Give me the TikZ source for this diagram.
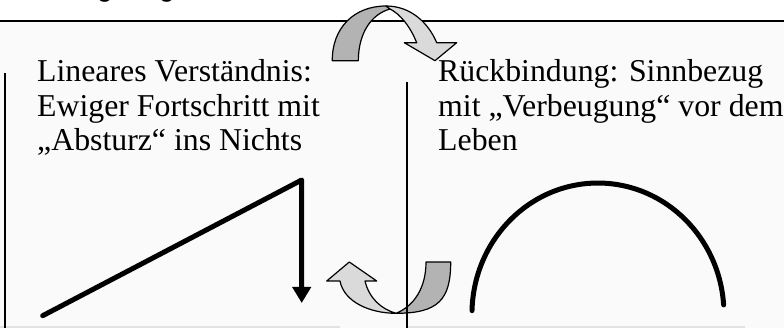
\documentclass[tikz,border=0pt]{standalone}
\usepackage{fontspec}
\setmainfont{Liberation Serif}
\newfontfamily\headfont{Liberation Sans}
\usetikzlibrary{arrows.meta}
\definecolor{panel}{HTML}{FAFAFA}
\definecolor{edgegray}{HTML}{E2E2E2}
\definecolor{banddark}{HTML}{B3B3B3}
\definecolor{bandlight}{HTML}{DADADA}
\begin{document}
\begin{tikzpicture}[x=1pt,y=-1pt,
  txt/.style={anchor=base west, inner sep=0pt, font=\fontsize{31.8}{34.5}\selectfont},
  head/.style={anchor=base, inner sep=0pt, font=\headfont\fontsize{28}{30}\selectfont},
  rule/.style={draw=black, line width=1.6pt},
  heavy/.style={line width=5pt, line cap=round, line join=round},
  band/.style={draw=black, line width=1.2pt, line join=round}]
\useasboundingbox (0,0) rectangle (784,328);
\fill[white] (0,0) rectangle (784,328);
\fill[panel] (0,21) rectangle (784,328);

% heading above the frame, only its descenders show
\begin{scope}
  \clip (0,0) rectangle (784,328);
  \node[head] (hg1) at (105,-3) {g};
  \node[head] (hg2) at (167,-3) {g};
\end{scope}

% frame lines
\draw[edgegray, line width=1.5pt] (0,327) -- (340,327) (408,327) -- (745,327);
\draw[rule] (0,21) -- (784,21);
\draw[rule, line width=2pt] (4.7,73) -- (4.7,328);

% left column text
\node[txt] (l1) at (37,82) {Lineares Verständnis:};
\node[txt] (l2) at (37,116.5) {Ewiger Fortschritt mit};
\node[txt] (l3) at (37,151) {„Absturz“ ins Nichts};

% right column text
\node[txt] (r1) at (438,82) {Rückbindung: Sinnbezug};
\node[txt] (r2) at (438,116.5) {mit „Verbeugung“ vor dem};
\node[txt] (r3) at (438,151) {Leben};

% rise and fall
\coordinate (zstart) at (42.7,315.7);
\coordinate (zpeak) at (301.7,180);
\coordinate (zend) at (301.7,303);
\draw[heavy, -{Triangle[width=18pt,length=16pt]}] (zstart) -- (zpeak) -- (zend);

% arc of life
\draw[heavy] (472,310.6) arc[start angle=178.5, end angle=4, x radius=126, y radius=-131];

% curved arrow over the top
\fill[banddark, band]
  (332.3,60.7) .. controls (332,28) and (354,6) .. (386,6)
  -- (390,9) .. controls (372,14) and (358.5,32) .. (358.3,60.7) -- cycle;
\fill[bandlight, band]
  (386,6) .. controls (410,6) and (428,22) .. (436.7,42.7)
  -- (456.7,42.7) -- (435,60.7) -- (404.3,42.7) -- (416.7,42.7)
  .. controls (410,26) and (400,14) .. (390,9) -- cycle;

% curved arrow underneath
\fill[banddark, band]
  (396,313.3) .. controls (438,313.3) and (450.7,300) .. (450.7,262)
  -- (426,262) .. controls (426,288) and (414,306) .. (396,313.3) -- cycle;
\fill[bandlight, band]
  (349.3,262) -- (376.7,281) -- (365,281)
  .. controls (369,298) and (381,309) .. (396,313.3)
  .. controls (370,313.3) and (344,302) .. (340,281)
  -- (326.7,281) -- cycle;

% divider between the columns
\draw[rule, line width=1.3pt] (407,82) -- (407,328);
\end{tikzpicture}
\end{document}
